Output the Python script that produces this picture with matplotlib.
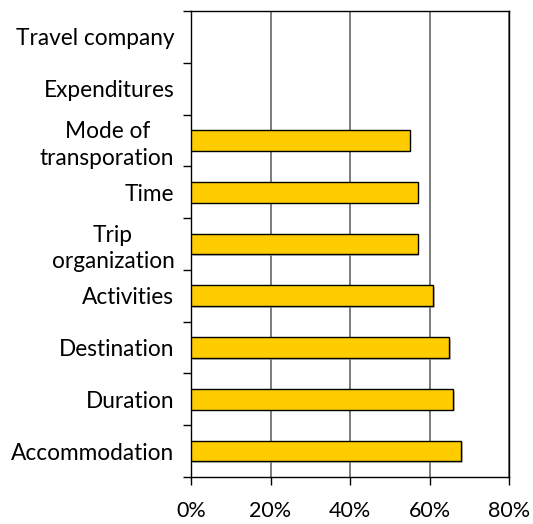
import numpy as np
import matplotlib
matplotlib.use("Agg")
import matplotlib.pyplot as plt
from matplotlib.ticker import FixedLocator, PercentFormatter
import matplotlib.patheffects as pe

categories = ["Accommodation", "Duration", "Destination", "Activities",
              "Trip\norganization", "Time", "Mode of\ntransporation",
              "Expenditures", "Travel company"]
values = [68, 66, 65, 61, 57, 57, 55, None, None]
x_ticks = [0, 20, 40, 60, 80]

plt.rcParams['font.family'] = ['Lato', 'DejaVu Sans']

fig = plt.figure(figsize=(5.33, 5.24), dpi=100)
ax = fig.add_axes([191 / 533, 1 - 477 / 524, (509 - 191) / 533, (477 - 11) / 524])

pos = np.arange(len(categories))
for p, v in zip(pos, values):
    if v is None:
        continue
    ax.barh(p, v, height=0.4, color="#FFCC00", edgecolor="black", linewidth=1.0,
            zorder=3,
            path_effects=[pe.SimplePatchShadow(offset=(1.2, -1.2), shadow_rgbFace="#999999", alpha=0.6),
                          pe.Normal()])

ax.set_xlim(0, 80)
ax.set_ylim(-0.5, len(categories) - 0.5)
ax.set_xticks(x_ticks)
ax.xaxis.set_major_formatter(PercentFormatter(decimals=0))
ax.set_yticks(pos)
ax.set_yticklabels(categories, fontsize=16.3, linespacing=1.3)
ax.yaxis.set_minor_locator(FixedLocator(np.arange(-0.5, len(categories), 1.0)))
ax.tick_params(axis="y", which="major", length=0, pad=12)
ax.tick_params(axis="y", which="minor", length=6, width=1, color="black", direction="out")
ax.tick_params(axis="x", which="major", length=6, width=1, direction="out", labelsize=15.5, pad=11)
for lbl in ax.get_yticklabels():
    lbl.set_horizontalalignment("right")
    lbl.set_multialignment("center")

ax.grid(axis="x", color="#666666", linewidth=1.2, zorder=0)
for s in ax.spines.values():
    s.set_color("black")
    s.set_linewidth(1.0)

fig.savefig("out.png", dpi=100)
